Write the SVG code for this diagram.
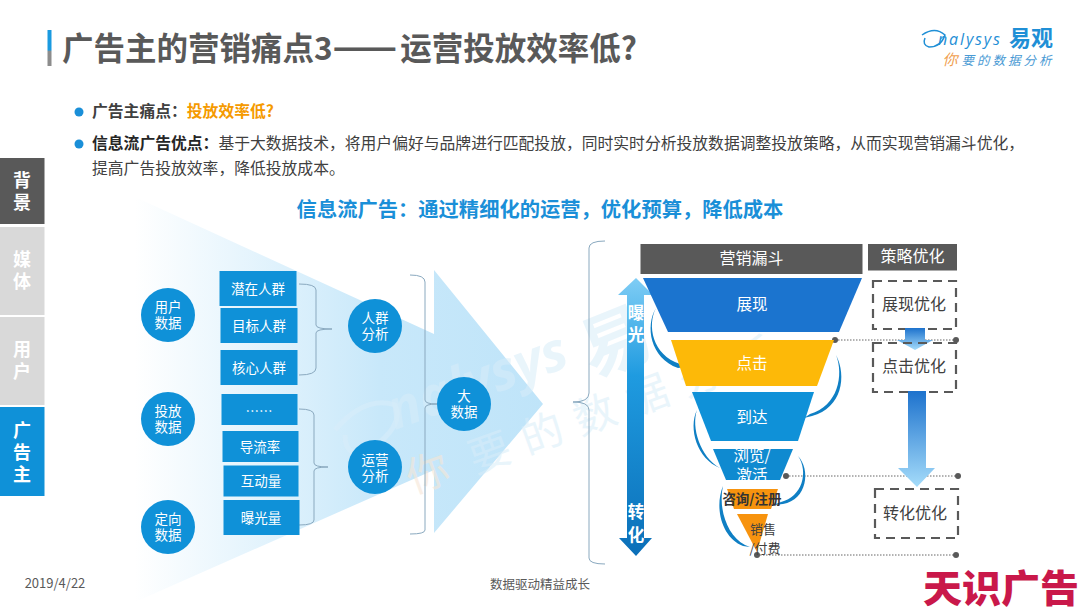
<svg xmlns="http://www.w3.org/2000/svg" width="1080" height="607" viewBox="0 0 1080 607">
<defs>
<linearGradient id="big" x1="0" x2="1" y1="0" y2="0"><stop offset="0" stop-color="#fff"/><stop offset="0.6" stop-color="#c8e8fa"/><stop offset="1" stop-color="#bfe4f9"/></linearGradient>
<linearGradient id="vert" x1="0" x2="0" y1="0" y2="1"><stop offset="0" stop-color="#7fcdf5"/><stop offset="0.35" stop-color="#1f9be0"/><stop offset="1" stop-color="#0b6fb8"/></linearGradient>
<linearGradient id="down" x1="0" x2="0" y1="0" y2="1"><stop offset="0" stop-color="#1d72cd"/><stop offset="1" stop-color="#a5dcfa"/></linearGradient>
<linearGradient id="bar" x1="0" x2="0" y1="0" y2="1"><stop offset="0.55" stop-color="#1a9ae0"/><stop offset="0.6" stop-color="#8c8c8c"/></linearGradient>
<style>
text{font-family:"Noto Sans CJK SC","Noto Sans",sans-serif;text-anchor:middle}
.box{fill:#0f91d8}
.c{fill:#0f91d8}
.n{font-size:13.5px;fill:#fff}
.g{font-size:15.500px;fill:#fff}
.br{fill:none;stroke:#8aa9bf;stroke-width:1}
.dash{fill:none;stroke:#595959;stroke-width:2.2;stroke-dasharray:9 6}
.dot{fill:none;stroke:#666;stroke-width:1;stroke-dasharray:1.5 1.5}
.pt{fill:#595959}
.cv{fill:#0f7fc4}
.s{font-size:16px;fill:#404040}
.side{font-size:18px;font-weight:700;fill:#fff}
.body{font-size:15.8px;fill:#404040;text-anchor:start}
.wm{fill:#d8edf9;opacity:.55}
</style>
</defs>
<rect width="1080" height="607" fill="#fff"/>
<g id="header">
<rect x="47.500" y="30" width="4" height="36" fill="url(#bar)"/>
<text x="62" y="60" font-size="31.500" font-weight="700" fill="#595959" style="text-anchor:start">广告主的营销痛点3<tspan font-size="38">——</tspan><tspan dx="3">运营投放效率低?</tspan></text>
</g>
<g id="logo">
<path d="M922 35Q935 26 945 35Q941 47 929 47Q922 45 925 38" fill="none" stroke="#1f8fd6" stroke-width="1.5"/>
<text x="938" y="45" font-size="16" fill="#1f8fd6" font-style="italic" textLength="62" style="font-family:'Open Sans',sans-serif;text-anchor:start">nalysys</text>
<text x="1031" y="46" font-size="22" font-weight="700" fill="#1f8fd6">易观</text>
<text x="950" y="65" font-size="15" fill="#f0a050" font-style="italic">你</text>
<text x="1008" y="65" font-size="12.500" letter-spacing="3" fill="#4a9ad4" font-style="italic">要的数据分析</text>
</g>
<g id="bullets">
<circle cx="79" cy="112" r="4.5" fill="#1a8fd8"/>
<text x="92" y="117" class="body" font-weight="700" fill="#262626">广告主痛点&#xFF1A;<tspan fill="#f59a00">投放效率低?</tspan></text>
<circle cx="79" cy="144" r="4.5" fill="#1a8fd8"/>
<text x="92" y="149" class="body"><tspan font-weight="700" fill="#262626">信息流广告优点&#xFF1A;</tspan>基于大数据技术&#xFF0C;将用户偏好与品牌进行匹配投放&#xFF0C;同时实时分析投放数据调整投放策略&#xFF0C;从而实现营销漏斗优化&#xFF0C;</text>
<text x="92" y="174" class="body">提高广告投放效率&#xFF0C;降低投放成本。</text>
</g>
<g id="tabs">
<rect x="0" y="158" width="44.500" height="66" fill="#595959"/>
<rect x="0" y="227" width="44.500" height="88" fill="#d9d9d9"/>
<rect x="0" y="317" width="44.500" height="88" fill="#d9d9d9"/>
<rect x="0" y="407" width="44.500" height="89" fill="#0f91d8"/>
<text class="side"><tspan x="22" y="187">背</tspan><tspan x="22" y="209">景</tspan></text>
<text class="side"><tspan x="22" y="266">媒</tspan><tspan x="22" y="288">体</tspan></text>
<text class="side"><tspan x="22" y="356">用</tspan><tspan x="22" y="378">户</tspan></text>
<text class="side"><tspan x="22" y="437">广</tspan><tspan x="22" y="459">告</tspan><tspan x="22" y="481">主</tspan></text>
</g>
<text id="subtitle" x="540" y="217" font-size="20.300" font-weight="700" fill="#1a8fd8">信息流广告&#xFF1A;通过精细化的运营&#xFF0C;优化预算&#xFF0C;降低成本</text>
<path id="bigarrow" d="M135 197L434 334V270L543 404L434 533V470L135 602z" fill="url(#big)"/>
<g id="watermark">
<text class="wm" x="625" y="365" font-size="70" font-weight="700" transform="rotate(-22 625 365)">易</text>
<path d="M335 430Q365 395 395 405Q405 425 370 450Q345 460 345 435" fill="none" stroke="#d8edf9" stroke-width="5" opacity=".55"/>
<text class="wm" x="395" y="430" font-size="54" font-style="italic" font-weight="700" transform="rotate(-20 395 430)" style="font-family:'Open Sans',sans-serif;text-anchor:start">nalysys</text>
<text x="413" y="494" font-size="42" fill="#f6e6d6" opacity=".6" transform="rotate(-20 413 494)" style="text-anchor:start">你</text>
<text class="wm" x="475" y="474" font-size="42" letter-spacing="14" transform="rotate(-20 475 474)" style="text-anchor:start">要的数据分析</text>
</g>
<g id="connectors">
<path class="br" d="M299 284Q316 284 316 290V325Q316 329 332 329Q316 329 316 333V368Q316 375 299 375"/>
<path class="br" d="M299 409Q314 409 314 415V463Q314 467 328 467Q314 467 314 471V520Q314 525 299 525"/>
<path class="br" d="M410 275Q425 275 425 282V400Q425 404 437 404Q425 404 425 408V530Q425 534 410 534"/>
<path class="br" d="M605 241Q589 241 589 248V393Q589 402 573 402Q589 402 589 410V558Q589 564 605 564"/>
<path class="dot" d="M835 340H956"/><path class="dot" d="M786 476H958"/><path class="dot" d="M757 555H956"/>
<circle class="pt" cx="835" cy="340" r="3"/><circle class="pt" cx="956" cy="340" r="3"/>
<circle class="pt" cx="786" cy="476" r="3"/><circle class="pt" cx="958" cy="476" r="3"/>
<circle class="pt" cx="757" cy="555" r="3"/><circle class="pt" cx="956" cy="555" r="3"/>
<path class="cv" d="M656 308C647 325 652 355 680 364L685 367L678 368C650 358 645 326 656 308z"/>
<path class="cv" d="M836 355C844 375 838 406 810 414L804 418L812 416C842 408 847 376 836 355z"/>
<path class="cv" d="M697 410C691 427 700 457 720 468C697 459 688 428 697 410z"/>
<path class="cv" d="M798 456C809 472 802 497 781 502L773 505L783 504C807 500 811 470 798 456z"/>
<path class="cv" d="M723 486C718 508 727 536 745 545L750 547L743 546C722 538 714 508 723 486z"/>
</g>
<g id="n-user"><circle class="c" cx="168" cy="315" r="27"/><text class="n"><tspan x="168" y="312">用户</tspan><tspan x="168" y="328">数据</tspan></text></g>
<g id="n-place"><circle class="c" cx="168" cy="419" r="27"/><text class="n"><tspan x="168" y="416">投放</tspan><tspan x="168" y="432">数据</tspan></text></g>
<g id="n-target"><circle class="c" cx="168" cy="527" r="27"/><text class="n"><tspan x="168" y="524">定向</tspan><tspan x="168" y="540">数据</tspan></text></g>
<g id="n-qz"><rect class="box" x="219.500" y="271" width="77" height="35"/><text class="n" x="258" y="294">潜在人群</text></g>
<g id="n-mb"><rect class="box" x="220.500" y="308" width="77" height="35"/><text class="n" x="259" y="331">目标人群</text></g>
<g id="n-hx"><rect class="box" x="220.500" y="350" width="77" height="35"/><text class="n" x="259" y="373">核心人群</text></g>
<g id="n-dots"><rect class="box" x="221.500" y="394" width="76" height="31"/><text class="n" x="259" y="416">……</text></g>
<g id="n-dl"><rect class="box" x="222.500" y="431" width="76" height="31"/><text class="n" x="260" y="452">导流率</text></g>
<g id="n-hd"><rect class="box" x="223.500" y="465.500" width="75" height="31"/><text class="n" x="261" y="486">互动量</text></g>
<g id="n-bg"><rect class="box" x="223.500" y="500" width="76" height="35"/><text class="n" x="261" y="523">曝光量</text></g>
<g id="n-rq"><circle class="c" cx="375" cy="326" r="27"/><text class="n"><tspan x="375" y="323">人群</tspan><tspan x="375" y="339">分析</tspan></text></g>
<g id="n-yy"><circle class="c" cx="375" cy="467" r="27"/><text class="n"><tspan x="375" y="465">运营</tspan><tspan x="375" y="481">分析</tspan></text></g>
<g id="n-big"><circle class="c" cx="464" cy="404" r="27"/><text class="n"><tspan x="464" y="401">大</tspan><tspan x="464" y="417">数据</tspan></text></g>
<g id="arrow-vert">
<path d="M636 278L653 295H644V538H652L636 556L619 538H627V295H618z" fill="url(#vert)"/>
<text font-size="16.500" font-weight="700" fill="#fff"><tspan x="636" y="319">曝</tspan><tspan x="636" y="341">光</tspan></text>
<text font-size="16.500" font-weight="700" fill="#fff"><tspan x="636" y="518">转</tspan><tspan x="636" y="541">化</tspan></text>
</g>
<g id="n-head1"><rect x="640.500" y="244" width="222" height="30" fill="#595959"/><text class="s" style="fill:#fff" x="751.500" y="264">营销漏斗</text></g>
<g id="n-head2"><rect x="868" y="244" width="89" height="26.500" fill="#595959"/><text class="s" style="fill:#fff" x="912.500" y="262">策略优化</text></g>
<g id="n-f1"><path d="M643 278H862L839 332H668z" fill="#1b74cf"/><text class="g" x="752" y="310">展现</text></g>
<g id="n-f2"><path d="M671 340H834L817 386H686z" fill="#fdb908"/><text class="g" x="752" y="369">点击</text></g>
<g id="n-f3"><path d="M692 392H814L798 441H711z" fill="#0f91d8"/><text class="g" x="752" y="423">到达</text></g>
<g id="n-f4"><path d="M713 449H793L780 480H726z" fill="#0f8ad0"/><text class="g"><tspan x="752" y="461">浏览/</tspan><tspan x="752" y="481">激活</tspan></text></g>
<g id="n-f5"><path d="M727 489H778L771 509H734z" fill="#f7930e"/><text x="752" y="504" font-size="13.500" font-weight="700" fill="#333">咨询/注册</text></g>
<g id="n-f6"><path d="M737 514H768L757 552z" fill="#f7930e"/><text font-size="13" fill="#404040"><tspan x="763" y="534">销售</tspan><tspan x="765" y="553">/付费</tspan></text></g>
<g id="n-s1"><rect class="dash" x="873" y="281" width="83" height="48"/><text class="s" x="914" y="310">展现优化</text></g>
<path id="arr1" d="M905 328H925V340H933L915 350L897 340H905z" fill="url(#down)"/>
<g id="n-s2"><rect class="dash" x="873" y="343" width="83" height="49"/><text class="s" x="914" y="372">点击优化</text></g>
<path id="arr2" d="M908 391H926V468H935L917 487L898 468H908z" fill="url(#down)"/>
<g id="n-s3"><rect class="dash" x="875" y="489" width="83" height="49"/><text class="s" x="915" y="519">转化优化</text></g>
<g id="footer">
<text x="55" y="588" font-size="13" fill="#595959">2019/4/22</text>
<text x="540" y="589" font-size="12.500" fill="#595959">数据驱动精益成长</text>
<text x="1001" y="602" font-size="38" font-weight="900" fill="#c9184a" textLength="156" lengthAdjust="spacingAndGlyphs">天识广告</text>
</g>
</svg>
